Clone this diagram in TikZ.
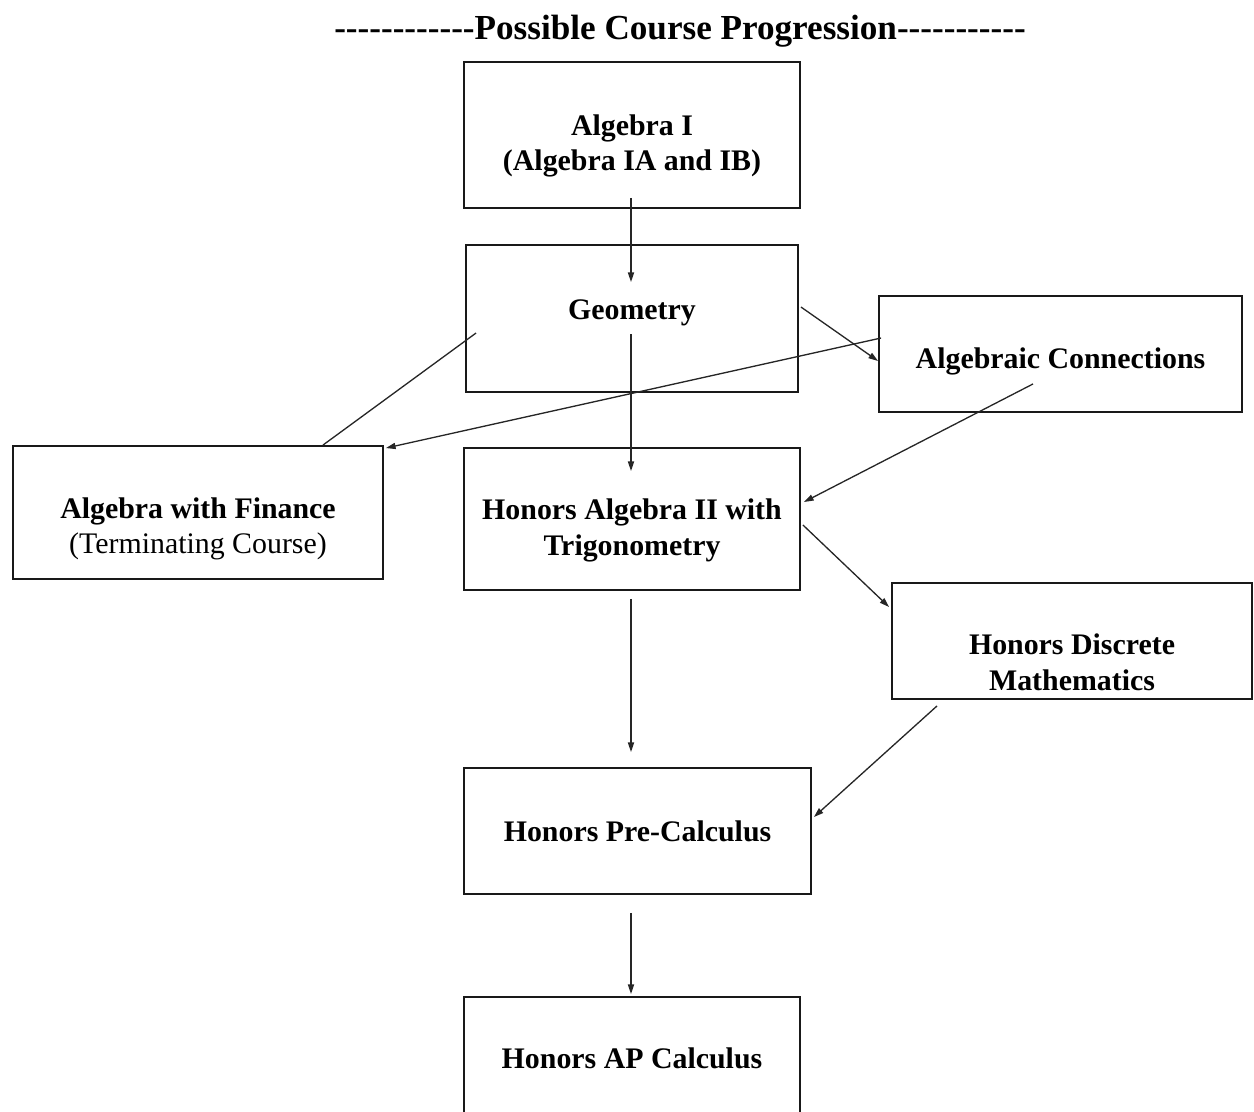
\documentclass[tikz,border=0pt]{standalone}
\usepackage{fontspec}
\setmainfont{Liberation Serif}[Ligatures=TeXOff]
\usepackage{tikz}
\usetikzlibrary{arrows.meta, calc}
\tikzset{
  course/.style={rectangle, draw=black!90, line width=1.1pt, align=center, inner sep=0pt, font=\fontsize{17}{20.2}\selectfont\bfseries},
  heading/.style={font=\fontsize{20}{23}\selectfont\bfseries, inner sep=0pt},
  arrow/.style={line width=0.75pt, black!85, -{Triangle[length=5.5pt, width=3.5pt]}},
  plainline/.style={line width=0.75pt, black!85}
}
\begin{document}
\begin{tikzpicture}[x=0.02cm, y=-0.02cm]
    \useasboundingbox (0,0) rectangle (1254,1112);
    % Defining nodes
    \node[heading] (title) at (680,31) {------------Possible Course Progression-----------};
    \node[course, minimum width=6.72cm, minimum height=2.92cm] (alg1) at (632,135) {\rule{0pt}{0.86cm}Algebra I\\(Algebra IA and IB)};
    \node[course, minimum width=6.64cm, minimum height=2.94cm] (geom) at (632,318.5) {Geometry\rule[-0.37cm]{0pt}{0.37cm}};
    \node[course, minimum width=7.26cm, minimum height=2.32cm] (algcon) at (1060.5,354) {\rule{0pt}{0.72cm}Algebraic Connections};
    \node[course, minimum width=7.4cm, minimum height=2.66cm] (fin) at (198,512.5) {\rule{0pt}{1.06cm}Algebra with Finance\\\mdseries(Terminating Course)};
    \node[course, minimum width=6.72cm, minimum height=2.84cm] (alg2) at (632,519) {\rule{0pt}{0.88cm}Honors Algebra II with\\Trigonometry};
    \node[course, minimum width=7.2cm, minimum height=2.32cm] (disc) at (1072,641) {\rule{0pt}{1.26cm}Honors Discrete\\Mathematics};
    \node[course, minimum width=6.94cm, minimum height=2.52cm] (prec) at (637.5,831) {Honors Pre-Calculus};
    \node[course, minimum width=6.72cm, minimum height=2.66cm] (apc) at (632,1063.5) {Honors AP Calculus\rule[-0.22cm]{0pt}{0.22cm}};

    % Drawing arrows
    \draw[arrow] ($(alg1.south)+(-1,-11)$) -- ($(geom.north)+(-1,38)$);
    \draw[arrow] ($(geom.north)+(-1,90)$) -- ($(alg2.north)+(-1,24)$);
    \draw[arrow] ($(geom.east)+(2,-11.5)$) -- ($(algcon.west)+(0,7)$);
    \draw[arrow] ($(algcon.west)+(3,-16)$) -- ($(fin.north east)+(2,3)$);
    \draw[plainline] ($(geom.west)+(11,14.5)$) -- ($(fin.north)+(125,0)$);
    \draw[arrow] ($(algcon.south)+(-27.5,-29)$) -- ($(alg2.east)+(3,-17)$);
    \draw[arrow] ($(alg2.east)+(2,6)$) -- ($(disc.west)+(-2,-34)$);
    \draw[arrow] ($(alg2.south)+(-1,8)$) -- ($(prec.north)+(-6.5,-15)$);
    \draw[arrow] ($(disc.south)+(-135,6)$) -- ($(prec.east)+(2,-14)$);
    \draw[arrow] ($(prec.south)+(-6.5,18)$) -- ($(apc.north)+(-1,-2)$);
\end{tikzpicture}
\end{document}
